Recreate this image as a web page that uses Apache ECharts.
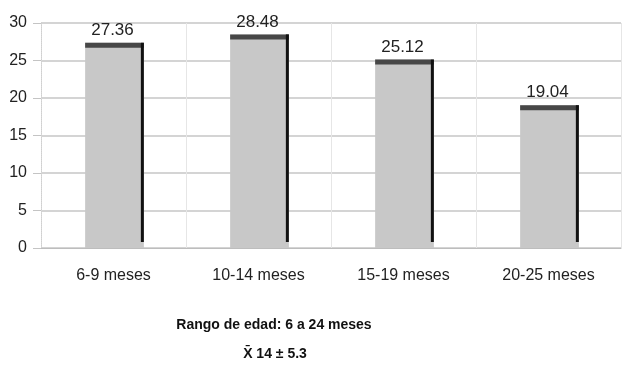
<!DOCTYPE html>
<html>
<head>
<meta charset="utf-8">
<script src="https://cdn.jsdelivr.net/npm/echarts@6/dist/echarts.min.js"></script>
<style>
html,body{margin:0;padding:0;background:#fff;}
#chart{width:629px;height:367px;}
</style>
</head>
<body>
<div id="chart"></div>
<script>
const categories = ['6-9 meses', '10-14 meses', '15-19 meses', '20-25 meses'];
const values = [27.36, 28.48, 25.12, 19.04];
const yTicks = [0, 5, 10, 15, 20, 25, 30];
const footLine1 = 'Rango de edad: 6 a 24 meses';
const footLine2 = 'X\u0304 14 \u00B1 5.3';

const FONT = '"Liberation Sans", Arial, sans-serif';
const chart = echarts.init(document.getElementById('chart'));

chart.setOption({
  backgroundColor: '#fff',
  animation: false,
  grid: { left: 41, right: 8, top: 23, bottom: 119 },
  xAxis: {
    type: 'category',
    data: categories,
    axisLine: { show: true, lineStyle: { color: '#bdbdbd', width: 1 } },
    axisTick: { show: false },
    splitLine: { show: true, lineStyle: { color: '#e6e6e6', width: 1 } },
    axisLabel: { color: '#222', fontFamily: FONT, fontSize: 16, margin: 20 }
  },
  yAxis: {
    type: 'value',
    min: yTicks[0],
    max: yTicks[yTicks.length - 1],
    interval: 5,
    axisLine: { show: true, lineStyle: { color: '#d0d0d0', type: 'dotted', width: 1 } },
    axisTick: { show: true, length: 8, lineStyle: { color: '#c4c4c4' } },
    splitLine: { show: true, lineStyle: { color: '#d4d4d4', width: 2 } },
    axisLabel: { color: '#222', fontFamily: FONT, fontSize: 16, margin: 14 }
  },
  series: [{
    type: 'custom',
    data: values.map((v, i) => [i, v]),
    encode: { x: 0, y: 1 },
    renderItem: function (params, api) {
      const xi = api.value(0), v = api.value(1);
      const top = api.coord([xi, v]);
      const base = api.coord([xi, 0]);
      const bw = api.size([1, 0])[0] * 0.405;
      const left = top[0] - bw / 2 + 1;
      const h = base[1] - top[1];
      return {
        type: 'group',
        children: [
          { type: 'rect', shape: { x: left, y: top[1], width: bw, height: h }, style: { fill: '#c8c8c8' } },
          { type: 'rect', shape: { x: left, y: top[1], width: bw, height: 5 }, style: { fill: '#474747' } },
          { type: 'rect', shape: { x: left + bw - 3, y: top[1], width: 3, height: h - 6 }, style: { fill: '#111' } },
          { type: 'text', x: top[0] - 1, y: top[1] - 4,
            style: { text: v.toFixed(2), fill: '#222', font: '17px ' + FONT, textAlign: 'center', textVerticalAlign: 'bottom' } }
        ]
      };
    }
  }],
  graphic: [
    { type: 'text', x: 274, y: 325,
      style: { text: footLine1, fill: '#111', font: 'bold 14px ' + FONT, textAlign: 'center', textVerticalAlign: 'middle' } },
    { type: 'text', x: 275, y: 354,
      style: { text: footLine2, fill: '#111', font: 'bold 14px ' + FONT, textAlign: 'center', textVerticalAlign: 'middle' } }
  ]
});
</script>
</body>
</html>
